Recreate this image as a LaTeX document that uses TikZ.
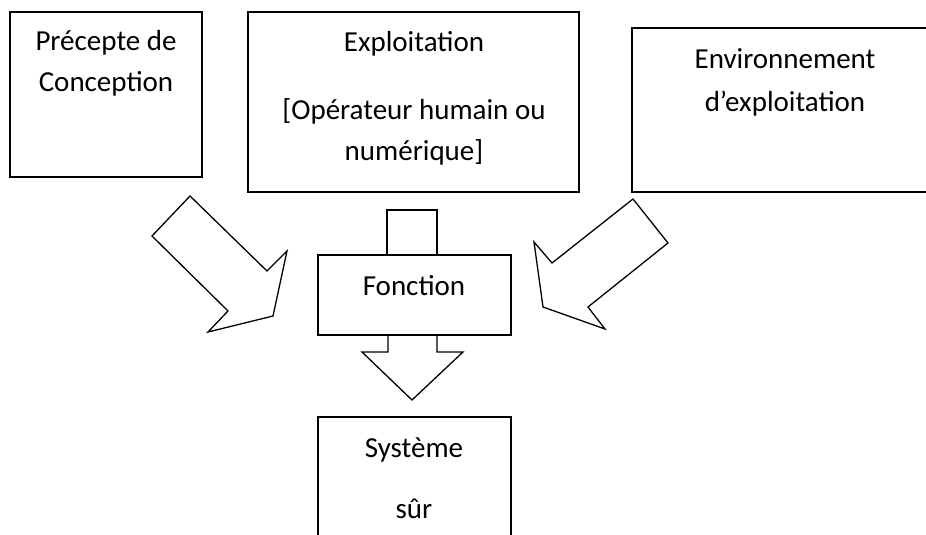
\documentclass[tikz,border=0pt]{standalone}
\usepackage{fontspec}
\setmainfont{Carlito}
\usetikzlibrary{calc}
\tikzset{
	boite/.style={line width=1.6pt},
	fleche/.style={line width=1.3pt, line join=miter},
	texte/.style={anchor=base, inner sep=0pt, font=\fontsize{29}{34}\selectfont},
}

\begin{document}
\begin{tikzpicture}[x=1pt,y=-1pt]
			%%%%% START %%%%%
			\useasboundingbox (0,0) rectangle (926,535);
			\clip (0,0) rectangle (926,535);
			
			\draw[boite] (10, 12) rectangle (202, 177);
			\node[texte] (precepteA) at (106, 51) {Précepte de};
			\node[texte] (precepteB) at (106, 91) {Conception};
			
			\draw[boite] (248, 12) rectangle (579, 192);
			\node[texte] (exploitA) at (414, 52) {Exploitation};
			\node[texte] (exploitB) at (414, 119) {[Opérateur humain ou};
			\node[texte] (exploitC) at (414, 160) {numérique]};
			
			\draw[boite] (632, 28) rectangle (940, 192);
			\node[texte] (environA) at (785, 69) {Environnement};
			\node[texte] (environB) at (785, 111) {d’exploitation};
			
			% fleches
			\draw[fleche] (190, 196) -- (267, 271) -- (287, 251) -- (273, 316) -- (208, 332) -- (228, 311) -- (152, 236) -- cycle;
			\draw[fleche] (633, 199) -- (668, 243) -- (588, 307) -- (605, 329) -- (543, 307) -- (534, 242) -- (552, 263) -- cycle;
			\draw[fleche] (387, 255) -- (387, 210) -- (437, 210) -- (437, 255);
			\draw[fleche] (388, 335) -- (388, 352) -- (362, 352) -- (412, 400) -- (463, 352) -- (437, 352) -- (437, 335);
			
			\draw[boite, fill=white] (318, 255) rectangle (511, 335);
			\node[texte] (fonction) at (414, 295) {Fonction};
			
			\draw[boite] (318, 545) -- (318, 417) -- (511, 417) -- (511, 545);
			\node[texte] (systemeA) at (414, 457) {Système};
			\node[texte] (systemeB) at (414, 518) {sûr};
			
			%%%%% END %%%%%
\end{tikzpicture}
\end{document}
